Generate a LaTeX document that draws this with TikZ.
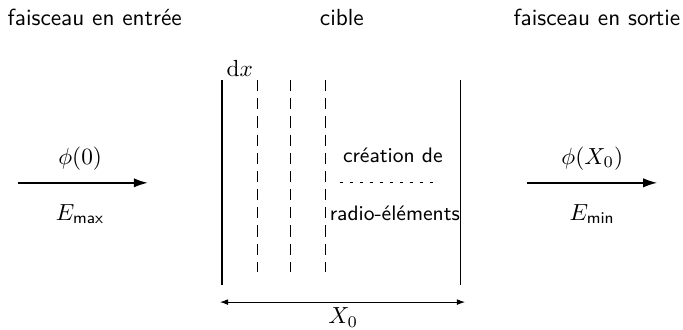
\documentclass[tikz,border=0pt]{standalone}
\usepackage{amsmath,amssymb}
\usepackage{xcolor}
\usepackage{tikz}
\usetikzlibrary{arrows.meta,calc,positioning}

\begin{document}
\begin{tikzpicture}[
    >=Latex,
    lbl/.style={font=\sffamily},
    wall/.style={semithick},
    slice/.style={thin,dash pattern=on 4.8pt off 3pt},
    sep/.style={thin,dash pattern=on 1.5pt off 2.8pt},
    beam/.style={->,semithick,>={Latex[length=6pt,width=4pt]}},
    span/.style={<->,thin,>={Latex[length=3.5pt,width=2.5pt]}},
  ]
    \useasboundingbox (0,0) rectangle (10.31,-4.97);

    \node[lbl] (inlbl) at (1.43,-0.26) {faisceau en entrée};
    \node[lbl] (tgtlbl) at (5.16,-0.26) {cible};
    \node[lbl] (outlbl) at (9.01,-0.26) {faisceau en sortie};

    % cible
    \coordinate (lt) at (3.35,-1.21);
    \coordinate (lb) at (3.35,-4.30);
    \coordinate (rt) at (6.95,-1.21);
    \coordinate (rb) at (6.95,-4.30);
    \draw[wall] (lt) -- (lb);
    \draw[wall] (rt) -- (rb);
    \foreach \x/\n in {3.88/a,4.39/b,4.91/c} {
      \coordinate (s\n t) at (\x,-1.21);
      \coordinate (s\n b) at (\x,-4.11);
      \draw[slice] (s\n t) -- (s\n b);
    }
    \node (dx) at (3.62,-1.03) {$\mathrm{d}x$};

    \node[lbl,font=\sffamily\small] (crea) at (5.93,-2.34) {création de};
    \node[lbl,font=\sffamily\small] (radio) at (5.96,-3.22) {radio-éléments};
    \coordinate (sepl) at (5.13,-2.76);
    \coordinate (sepr) at (6.57,-2.76);
    \draw[sep] (sepl) -- (sepr);

    % faisceau entrant
    \coordinate (in1) at (0.27,-2.76);
    \coordinate (in2) at (2.23,-2.76);
    \draw[beam] (in1) -- (in2);
    \node (phi0) at (1.21,-2.39) {$\phi(0)$};
    \node (emax) at (1.21,-3.23) {$E_{\textsf{max}}$};

    % faisceau sortant
    \coordinate (out1) at (7.96,-2.76);
    \coordinate (out2) at (9.92,-2.76);
    \draw[beam] (out1) -- (out2);
    \node (phix) at (8.94,-2.39) {$\phi(X_0)$};
    \node (emin) at (8.94,-3.23) {$E_{\textsf{min}}$};

    % epaisseur
    \coordinate (x1) at (3.32,-4.56);
    \coordinate (x2) at (7.02,-4.56);
    \draw[span] (x1) -- (x2);
    \node (xlen) at (5.18,-4.79) {$X_0$};
  \end{tikzpicture}
\end{document}
